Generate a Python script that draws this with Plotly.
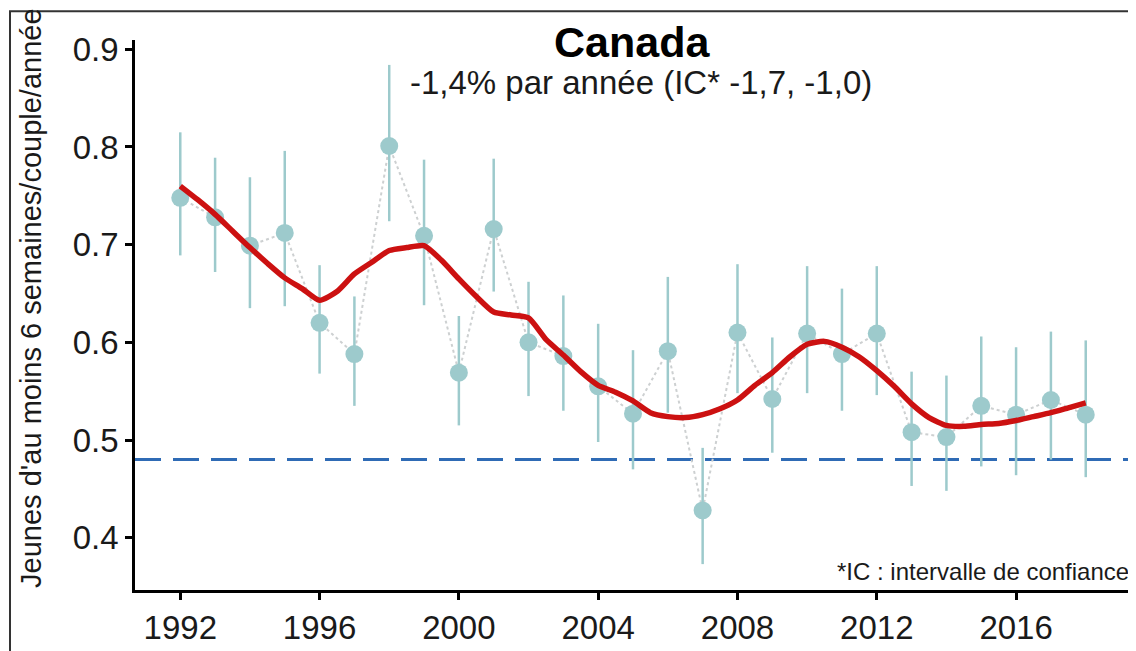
import plotly.graph_objects as go

# ---- data ----
years = list(range(1992, 2019))
values = [0.748, 0.728, 0.699, 0.712, 0.620, 0.588, 0.801, 0.709, 0.569, 0.716,
          0.600, 0.586, 0.555, 0.527, 0.591, 0.428, 0.610, 0.542, 0.609, 0.588,
          0.609, 0.508, 0.503, 0.535, 0.526, 0.541, 0.526]
ci_high = [0.815, 0.789, 0.769, 0.796, 0.679, 0.647, 0.884, 0.787, 0.627, 0.788,
           0.662, 0.648, 0.619, 0.592, 0.667, 0.492, 0.680, 0.605, 0.678, 0.655,
           0.678, 0.570, 0.566, 0.606, 0.595, 0.611, 0.602]
ci_low = [0.689, 0.672, 0.635, 0.637, 0.568, 0.535, 0.724, 0.638, 0.515, 0.652,
          0.545, 0.530, 0.498, 0.470, 0.528, 0.373, 0.548, 0.487, 0.548, 0.530,
          0.546, 0.453, 0.448, 0.473, 0.464, 0.480, 0.462]

smooth_x = [1992 + 0.5 * i for i in range(53)]
smooth_y = [0.760, 0.746, 0.731, 0.714, 0.697, 0.681, 0.666, 0.655, 0.643, 0.652,
            0.670, 0.682, 0.694, 0.697, 0.699, 0.684, 0.665, 0.647, 0.631, 0.628,
            0.625, 0.603, 0.587, 0.570, 0.556, 0.549, 0.540, 0.528, 0.524, 0.523,
            0.526, 0.532, 0.541, 0.556, 0.569, 0.585, 0.598, 0.601, 0.595, 0.585,
            0.571, 0.555, 0.537, 0.523, 0.515, 0.514, 0.516, 0.517, 0.520, 0.524,
            0.528, 0.533, 0.538]

reference_level = 0.48
x_range = [1990.7, 2019.3]
y_range = [0.3465, 0.9095]
x_ticks = [1992, 1996, 2000, 2004, 2008, 2012, 2016]
y_ticks = [0.4, 0.5, 0.6, 0.7, 0.8, 0.9]

title_text = "<b>Canada</b>"
subtitle_text = "-1,4% par année (IC* -1,7, -1,0)"
y_title = "Jeunes d'au moins 6 semaines/couple/année"
caption = "*IC : intervalle de confiance"

FONT = "Liberation Sans, Arial, sans-serif"

fig = go.Figure()

# reference dashed line
fig.add_trace(go.Scatter(
    x=x_range, y=[reference_level, reference_level], mode="lines",
    line=dict(color="#2F6BB5", width=3, dash="26px,12px"),
    hoverinfo="skip", showlegend=False))

# dotted connecting line
fig.add_trace(go.Scatter(
    x=years, y=values, mode="lines",
    line=dict(color="#CDD0D1", width=2, dash="dot"),
    hoverinfo="skip", showlegend=False))

# points with error bars
fig.add_trace(go.Scatter(
    x=years, y=values, mode="markers",
    marker=dict(size=18, color="#9DCACC"),
    error_y=dict(type="data", symmetric=False,
                 array=[h - v for h, v in zip(ci_high, values)],
                 arrayminus=[v - l for v, l in zip(values, ci_low)],
                 color="#9DCACC", thickness=2.5, width=0),
    showlegend=False))

# smoothed trend
fig.add_trace(go.Scatter(
    x=smooth_x, y=smooth_y, mode="lines",
    line=dict(color="#CC1111", width=5.5, shape="spline", smoothing=0.6),
    showlegend=False))

fig.update_layout(
    width=1128, height=643,
    margin=dict(l=127, r=5, t=32, b=58),
    paper_bgcolor="white", plot_bgcolor="white",
    font=dict(family=FONT, color="black"),
    xaxis=dict(range=x_range, tickvals=x_ticks, ticktext=[str(t) for t in x_ticks],
               showgrid=False, zeroline=False, showline=True, linecolor="black",
               linewidth=2.5, ticks="outside", ticklen=7, tickwidth=2.5,
               tickcolor="black", tickfont=dict(size=33, family=FONT, color="#1a1a1a")),
    yaxis=dict(range=y_range, tickvals=y_ticks, ticktext=[str(t) for t in y_ticks],
               showgrid=False, zeroline=False, showline=True, linecolor="black",
               linewidth=2.5, ticks="outside", ticklen=7, tickwidth=2.5,
               tickcolor="black", tickfont=dict(size=33, family=FONT, color="#1a1a1a")),
    annotations=[
        dict(text=title_text, x=0.499, y=0.996, xref="paper", yref="paper",
             xanchor="center", yanchor="middle", showarrow=False,
             font=dict(size=43, family=FONT, color="black")),
        dict(text=subtitle_text, x=0.508, y=0.922, xref="paper", yref="paper",
             xanchor="center", yanchor="middle", showarrow=False,
             font=dict(size=33, family=FONT, color="#1a1a1a")),
        dict(text=y_title, x=-0.105, y=0.53, xref="paper", yref="paper",
             xanchor="center", yanchor="middle", showarrow=False, textangle=-90,
             font=dict(size=29, family=FONT, color="#1a1a1a")),
        dict(text=caption, x=1.0, y=0.033, xref="paper", yref="paper",
             xanchor="right", yanchor="middle", showarrow=False,
             font=dict(size=24, family=FONT, color="#1a1a1a")),
    ],
    shapes=[
        dict(type="rect", xref="paper", yref="paper",
             x0=-0.1255, x1=1.02, y0=-0.2, y1=1.0524,
             line=dict(color="#333333", width=2), layer="below"),
    ],
)

fig.write_html("out.html")
